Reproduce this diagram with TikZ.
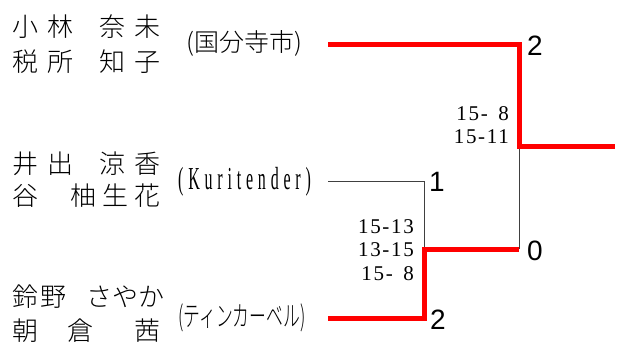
\documentclass[tikz,border=0pt]{standalone}
\usepackage{fontspec}
\setmainfont{Liberation Serif}
\newfontfamily\jpfont[UprightFont=* Light]{Noto Sans CJK JP}
\newfontfamily\jpnarrow[UprightFont=* Light,FakeStretch=0.6]{Noto Sans CJK JP}
\newfontfamily\latnarrow[FakeStretch=0.5,LetterSpace=15]{Liberation Serif}
\newfontfamily\scorefont[LetterSpace=8]{Liberation Serif}
\newfontfamily\digitfont{Liberation Sans}
\usetikzlibrary{positioning}

\newcommand{\kgap}[1][9pt]{\hspace{#1}}
\tikzstyle{player} = [inner sep=0pt, font=\jpfont\fontsize{26}{30}\selectfont]
\tikzstyle{team} = [inner sep=0pt, anchor=west]
\tikzstyle{score} = [inner sep=0pt, anchor=east, align=right, font=\scorefont\fontsize{21}{23.5}\selectfont]
\tikzstyle{result} = [inner sep=0pt, anchor=west, font=\digitfont\fontsize{28}{30}\selectfont]
\tikzstyle{win} = [draw=red, line width=5pt]
\tikzstyle{lose} = [draw=black!75, line width=0.9pt]

\begin{document}
\begin{tikzpicture}[x=1pt, y=-1pt]
  \useasboundingbox (0,0) rectangle (623,349);

  % pairs
  \node (p1a) [player, anchor=west] at (12, 27) {小\kgap 林};
  \node (p1b) [player, anchor=east] at (161, 27) {奈\kgap 未};
  \node (p2a) [player, anchor=west] at (12, 62) {税\kgap 所};
  \node (p2b) [player, anchor=east] at (161, 62) {知\kgap 子};
  \node (p3a) [player, anchor=west] at (12, 164) {井\kgap 出};
  \node (p3b) [player, anchor=east] at (161, 164) {涼\kgap 香};
  \node (p4a) [player, anchor=west] at (12, 196) {谷};
  \node (p4b) [player, anchor=east] at (161, 196) {柚\kgap[6pt]生\kgap[6pt]花};
  \node (p5a) [player, anchor=west] at (12, 297) {鈴\kgap[2pt]野};
  \node (p5b) [player, anchor=east] at (165, 297) {さやか};
  \node (p6a) [player, anchor=west] at (12, 331) {朝\kgap[29pt]倉};
  \node (p6b) [player, anchor=east] at (161, 331) {茜};

  % clubs
  \node (t1) [team, font=\jpfont\fontsize{25}{28}\selectfont] at (186, 43) {(国分寺市)};
  \node (t2) [team, anchor=base west, font=\latnarrow\fontsize{32}{35}\selectfont] at (178, 189) {(Kuritender)};
  \node (t3) [team, font=\jpnarrow\fontsize{28}{30}\selectfont] at (178, 318) {(ティンカーベル)};

  % bracket corners
  \coordinate (a1) at (328, 44);
  \coordinate (b1) at (328, 181);
  \coordinate (c1) at (328, 318);
  \coordinate (m1) at (424, 249);
  \coordinate (f1) at (519, 146);
  \coordinate (w1) at (615, 146);

  \draw [lose] (b1) -| (m1);
  \draw [lose] (f1) -- (f1 |- m1);
  \draw [win] (c1) -| (m1) -- (f1 |- m1);
  \draw [win] (a1) -| (f1) -- (w1);

  % games
  \node (r1) [result] at (527, 46) {2};
  \node (r2) [result] at (429, 182) {1};
  \node (r3) [result] at (430, 320) {2};
  \node (r4) [result] at (527, 251) {0};

  \node (s1) [score] at (509, 125) {15-\phantom{1}8\\15-11};
  \node (s2) [score] at (414, 250) {15-13\\13-15\\15-\phantom{1}8};
\end{tikzpicture}
\end{document}
